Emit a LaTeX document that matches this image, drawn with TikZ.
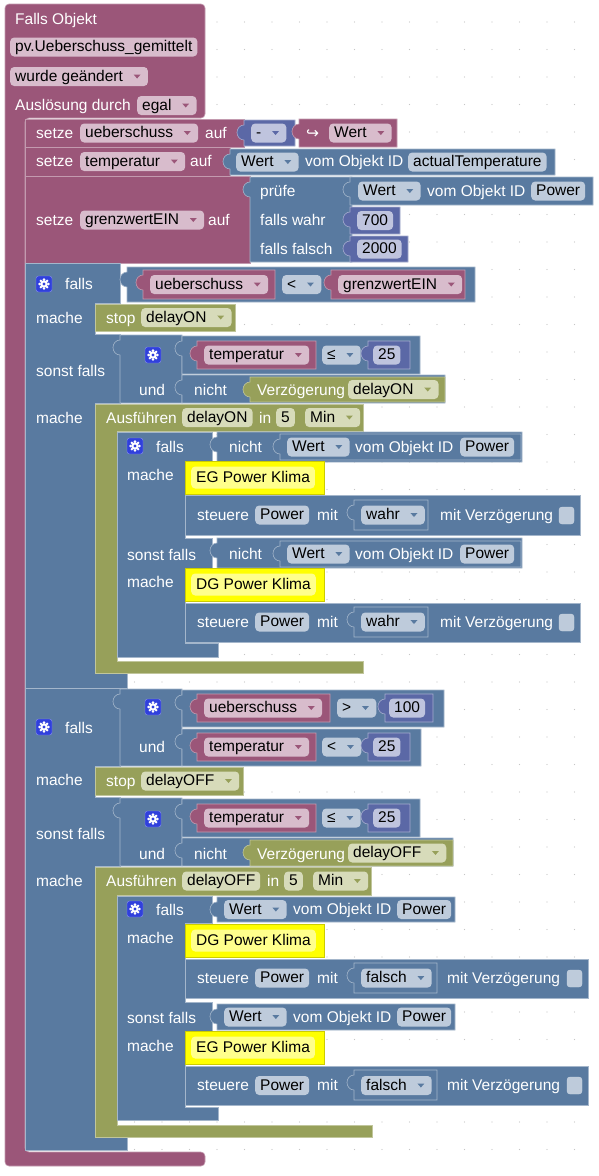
\documentclass[tikz,border=0pt]{standalone}
\usepackage{fontspec}
\setmainfont{Liberation Sans}
\newfontfamily\symfont{DejaVu Sans}
\usetikzlibrary{positioning}

\definecolor{procP}{RGB}{155,86,121}
\definecolor{procPf}{RGB}{216,188,204}
\definecolor{logB}{RGB}{89,122,160}
\definecolor{logBf}{RGB}{190,203,219}
\definecolor{mathB}{RGB}{91,104,166}
\definecolor{mathBf}{RGB}{191,196,222}
\definecolor{timO}{RGB}{151,160,90}
\definecolor{timOf}{RGB}{215,219,186}
\definecolor{dbgY}{RGB}{255,255,0}
\definecolor{dbgYf}{RGB}{255,255,140}
\definecolor{gearB}{RGB}{48,64,220}

\newcommand{\fsz}{\fontsize{15.5}{18}\selectfont}
\newcommand{\ddsp}{\kern20pt}
% dropdown triangle at the right end of a field node
\newcommand{\ddarr}[2]{\fill[#1] ([xshift=-14.5pt,yshift=2pt]#2.east) -- ++(7pt,0pt) -- ++(-3.5pt,-4pt) -- cycle;}
% value block with its output tab: style, x1, y1, x2, y2
\newcommand{\vblock}[5]{\filldraw[#1] (#2,#3+5) to[out=180,in=90] (#2-7,#3+12.5) to[out=270,in=180] (#2,#3+20) -- (#2,#5) -- (#4,#5) -- (#4,#3) -- (#2,#3) -- cycle;}
\newcommand{\gearicon}[2]{%
  \filldraw[fill=gearB, draw=gearB!55!white, rounded corners=2.5pt] (#1-8,#2-8) rectangle (#1+8,#2+8);
  \foreach \a in {0,45,...,315} \fill[white] (#1,#2) ++(\a:4.4pt) circle (1.4pt);
  \fill[white] (#1,#2) circle (3.8pt);
  \fill[gearB] (#1,#2) circle (1.6pt);}
\newcommand{\chkbox}[2]{\filldraw[fill=logBf, draw=logBf!80!white, rounded corners=3pt] (#1,#2) rectangle (#1+15,#2+17);}

\begin{document}
\begin{tikzpicture}[x=1pt,y=-1pt]
    % Define styles
    \tikzstyle{pblk} = [fill=procP, draw=procP!60!white, line width=0.6pt]
    \tikzstyle{bblk} = [fill=logB, draw=logB!55!white, line width=0.6pt]
    \tikzstyle{mblk} = [fill=mathB, draw=mathB!55!white, line width=0.6pt]
    \tikzstyle{oblk} = [fill=timO, draw=timO!60!white, line width=0.6pt]
    \tikzstyle{yblk} = [fill=dbgY, draw=dbgY!80!black, line width=0.4pt]
    \tikzstyle{lbl} = [text=white, inner sep=0pt, anchor=base west, font=\fsz]
    \tikzstyle{fld} = [rounded corners=4pt, inner xsep=5pt, inner ysep=0pt, minimum height=19pt, text height=11.5pt, text depth=2.5pt, anchor=west, font=\fsz, text=black]
    \tikzstyle{pfield} = [fld, fill=procPf]
    \tikzstyle{bfield} = [fld, fill=logBf]
    \tikzstyle{mfield} = [fld, fill=mathBf]
    \tikzstyle{ofield} = [fld, fill=timOf]
    \tikzstyle{yfield} = [fld, fill=dbgYf, minimum height=22pt]

    \useasboundingbox (0,0) rectangle (598,1176);
    \fill[white] (0,0) rectangle (598,1176);
    \foreach \i in {0,...,21} \foreach \j in {0,...,42} \fill[gray!45] (24.5+27.5*\i,22+27.5*\j) circle (0.6pt);

    % Trigger block
    \filldraw[pblk, rounded corners=4pt] (5,4) -- (205,4) -- (205,118) -- (25,118) -- (25,1152) -- (205,1152) -- (205,1166) -- (5,1166) -- cycle;
    \node[lbl] (trgT) at (15,24) {Falls Objekt};
    \node[pfield] (trgId) at (10,47) {pv.Ueberschuss\_gemittelt};
    \node[pfield] (trgChg) at (10,76.5) {wurde geändert\ddsp}; \ddarr{procP}{trgChg}
    \node[lbl] (trgBy) at (15,110) {Auslösung durch};
    \node[pfield] (trgAny) at (137,105.5) {egal\ddsp}; \ddarr{procP}{trgAny}

    % setze ueberschuss
    \filldraw[pblk] (25,119) rectangle (244,147);
    \node[lbl] (setA) at (36,138.5) {setze};
    \node[pfield] (setAv) at (80,133) {ueberschuss\ddsp}; \ddarr{procP}{setAv}
    \node[lbl] (setAto) at (205,138.5) {auf};
    \vblock{mblk}{244}{120}{295}{146}
    \node[mfield] (negOp) at (251,133) {-\ddsp}; \ddarr{mathB}{negOp}
    \vblock{pblk}{299}{119}{397}{147}
    \node[lbl] (negArr) at (306,138.5) {\symfont ↪};
    \node[pfield] (negVal) at (329,133) {Wert\ddsp}; \ddarr{procP}{negVal}

    % setze temperatur
    \filldraw[pblk] (25,147) rectangle (230,176);
    \node[lbl] (setB) at (36,166.5) {setze};
    \node[pfield] (setBv) at (80,161.5) {temperatur\ddsp}; \ddarr{procP}{setBv}
    \node[lbl] (setBto) at (190,166.5) {auf};
    \vblock{bblk}{230}{149}{555}{175}
    \node[bfield] (tmpAttr) at (236,162) {Wert\ddsp}; \ddarr{logB}{tmpAttr}
    \node[lbl] (tmpOf) at (305,166.5) {vom Objekt ID};
    \node[bfield] (tmpId) at (408,162) {actualTemperature};

    % setze grenzwertEIN
    \filldraw[pblk] (25,176) rectangle (250,263);
    \node[lbl] (setC) at (36,225) {setze};
    \node[pfield] (setCv) at (80,220) {grenzwertEIN\ddsp}; \ddarr{procP}{setCv}
    \node[lbl] (setCto) at (208,225) {auf};
    \vblock{bblk}{250}{177}{352}{262}
    \node[lbl] (terIf) at (260,196) {prüfe};
    \node[lbl] (terT) at (260,225) {falls wahr};
    \node[lbl] (terF) at (260,254) {falls falsch};
    \vblock{bblk}{350}{177}{593}{205}
    \node[bfield] (pwrAttr) at (358,191) {Wert\ddsp}; \ddarr{logB}{pwrAttr}
    \node[lbl] (pwrOf) at (427,196) {vom Objekt ID};
    \node[bfield] (pwrId) at (531,191) {Power};
    \vblock{mblk}{350}{207}{400}{234}
    \node[mfield] (num700) at (357,220.5) {700};
    \vblock{mblk}{350}{236}{408}{262}
    \node[mfield] (num2000) at (357,249) {2000};

    % falls ueberschuss < grenzwertEIN
    \filldraw[bblk] (25,263) -- (120,263) -- (120,303) -- (95,303) -- (95,334) -- (120,334) -- (120,403) -- (95,403) -- (95,673) -- (127,673) -- (127,688) -- (25,688) -- cycle;
    \gearicon{44}{284}
    \node[lbl] (ifA) at (65,289) {falls};
    \vblock{bblk}{127}{267}{475}{302}
    \vblock{pblk}{143}{270}{275}{299}
    \node[pfield] (cmpAl) at (150,284.5) {ueberschuss\ddsp}; \ddarr{procP}{cmpAl}
    \node[bfield] (cmpAop) at (282,284.5) {<\ddsp}; \ddarr{logB}{cmpAop}
    \vblock{pblk}{331}{270}{465}{299}
    \node[pfield] (cmpAr) at (338,284.5) {grenzwertEIN\ddsp}; \ddarr{procP}{cmpAr}
    \node[lbl] (ifAdo) at (36,323) {mache};
    \filldraw[oblk] (95,304) rectangle (235,331);
    \node[lbl] (stopA) at (106,323) {stop};
    \node[ofield] (stopAv) at (141,317.5) {delayON\ddsp}; \ddarr{timO}{stopAv}

    \node[lbl] (ifAel) at (36,376) {sonst falls};
    \vblock{bblk}{120}{335}{182}{403}
    \gearicon{153}{355}
    \vblock{bblk}{182}{336}{420}{374}
    \vblock{pblk}{197}{341}{316}{369}
    \node[pfield] (cmpBl) at (204,355) {temperatur\ddsp}; \ddarr{procP}{cmpBl}
    \node[bfield] (cmpBop) at (322,355) {≤\ddsp}; \ddarr{logB}{cmpBop}
    \vblock{mblk}{368}{341}{410}{369}
    \node[mfield] (cmpBr) at (373,355) {25};
    \node[lbl] (andA) at (139,395) {und};
    \vblock{bblk}{182}{375}{445}{403}
    \node[lbl] (notA) at (194,395) {nicht};
    \vblock{oblk}{250}{377}{445}{402}
    \node[lbl] (delA) at (257,395) {Verzögerung};
    \node[ofield] (delAv) at (348,389.5) {delayON\ddsp}; \ddarr{timO}{delAv}

    \node[lbl] (ifAdo2) at (36,423) {mache};
    \filldraw[oblk] (95,404) -- (363,404) -- (363,431) -- (117,431) -- (117,661) -- (363,661) -- (363,673) -- (95,673) -- cycle;
    \node[lbl] (runA) at (106,423) {Ausführen};
    \node[ofield] (runAv) at (182,417.5) {delayON};
    \node[lbl] (runAin) at (259,423) {in};
    \node[ofield] (runAt) at (276,417.5) {5};
    \node[ofield] (runAu) at (305,417.5) {Min\ddsp}; \ddarr{timO}{runAu}

    % inner falls (delayON)
    \filldraw[bblk] (117,432) -- (212,432) -- (212,461) -- (185,461) -- (185,538) -- (212,538) -- (212,568) -- (185,568) -- (185,643) -- (218,643) -- (218,657) -- (117,657) -- cycle;
    \gearicon{135}{446}
    \node[lbl] (ifC) at (156,452) {falls};
    \vblock{bblk}{217}{432}{522}{462}
    \node[lbl] (notC1) at (229,452) {nicht};
    \vblock{bblk}{280}{434}{521}{460}
    \node[bfield] (getC1) at (287,447) {Wert\ddsp}; \ddarr{logB}{getC1}
    \node[lbl] (getC1of) at (355,452) {vom Objekt ID};
    \node[bfield] (getC1id) at (460,447) {Power};
    \node[lbl] (ifCdo) at (127,480) {mache};
    \filldraw[yblk] (185,461) rectangle (324,494);
    \node[yfield] (dbgC1) at (191,477.5) {EG Power Klima};
    \filldraw[bblk] (185,495) rectangle (580,535);
    \node[lbl] (ctlC1) at (197,520) {steuere};
    \node[bfield] (ctlC1id) at (255,515) {Power};
    \node[lbl] (ctlC1w) at (317,520) {mit};
    \vblock{bblk}{354}{500}{428}{530}
    \node[bfield] (ctlC1v) at (361,515) {wahr\ddsp}; \ddarr{logB}{ctlC1v}
    \node[lbl] (ctlC1d) at (440,520) {mit Verzögerung};
    \chkbox{559}{507}

    \node[lbl] (ifCel) at (127,560) {sonst falls};
    \vblock{bblk}{217}{538}{522}{568}
    \node[lbl] (notC2) at (229,559) {nicht};
    \vblock{bblk}{280}{541}{521}{567}
    \node[bfield] (getC2) at (287,554) {Wert\ddsp}; \ddarr{logB}{getC2}
    \node[lbl] (getC2of) at (355,559) {vom Objekt ID};
    \node[bfield] (getC2id) at (460,554) {Power};
    \node[lbl] (ifCdo2) at (127,587) {mache};
    \filldraw[yblk] (185,568) rectangle (324,601);
    \node[yfield] (dbgC2) at (191,584.5) {DG Power Klima};
    \filldraw[bblk] (185,603) rectangle (580,642);
    \node[lbl] (ctlC2) at (197,627) {steuere};
    \node[bfield] (ctlC2id) at (255,622) {Power};
    \node[lbl] (ctlC2w) at (317,627) {mit};
    \vblock{bblk}{354}{607}{428}{637}
    \node[bfield] (ctlC2v) at (361,622) {wahr\ddsp}; \ddarr{logB}{ctlC2v}
    \node[lbl] (ctlC2d) at (440,627) {mit Verzögerung};
    \chkbox{559}{614}

    % falls ueberschuss > 100 und temperatur < 25
    \filldraw[bblk] (25,688) -- (120,688) -- (120,766) -- (95,766) -- (95,797) -- (120,797) -- (120,866) -- (95,866) -- (95,1137) -- (127,1137) -- (127,1150) -- (25,1150) -- cycle;
    \gearicon{44}{727}
    \node[lbl] (ifB) at (65,733) {falls};
    \vblock{bblk}{120}{689}{182}{766}
    \gearicon{153}{707}
    \vblock{bblk}{182}{690}{444}{727}
    \vblock{pblk}{197}{694}{330}{722}
    \node[pfield] (cmpCl) at (204,708) {ueberschuss\ddsp}; \ddarr{procP}{cmpCl}
    \node[bfield] (cmpCop) at (337,708) {>\ddsp}; \ddarr{logB}{cmpCop}
    \vblock{mblk}{385}{694}{433}{722}
    \node[mfield] (cmpCr) at (389,708) {100};
    \node[lbl] (andB) at (139,752) {und};
    \vblock{bblk}{182}{729}{421}{766}
    \vblock{pblk}{197}{733}{316}{761}
    \node[pfield] (cmpDl) at (204,747) {temperatur\ddsp}; \ddarr{procP}{cmpDl}
    \node[bfield] (cmpDop) at (322,747) {<\ddsp}; \ddarr{logB}{cmpDop}
    \vblock{mblk}{368}{733}{410}{761}
    \node[mfield] (cmpDr) at (373,747) {25};
    \node[lbl] (ifBdo) at (36,785) {mache};
    \filldraw[oblk] (95,767) rectangle (243,795);
    \node[lbl] (stopB) at (106,786) {stop};
    \node[ofield] (stopBv) at (141,781) {delayOFF\ddsp}; \ddarr{timO}{stopBv}

    \node[lbl] (ifBel) at (36,839) {sonst falls};
    \vblock{bblk}{120}{798}{182}{866}
    \gearicon{153}{819}
    \vblock{bblk}{182}{799}{420}{837}
    \vblock{pblk}{197}{804}{316}{832}
    \node[pfield] (cmpEl) at (204,818) {temperatur\ddsp}; \ddarr{procP}{cmpEl}
    \node[bfield] (cmpEop) at (322,818) {≤\ddsp}; \ddarr{logB}{cmpEop}
    \vblock{mblk}{368}{804}{410}{832}
    \node[mfield] (cmpEr) at (373,818) {25};
    \node[lbl] (andC) at (139,859) {und};
    \vblock{bblk}{182}{838}{453}{866}
    \node[lbl] (notB) at (194,859) {nicht};
    \vblock{oblk}{250}{840}{453}{866}
    \node[lbl] (delB) at (257,859) {Verzögerung};
    \node[ofield] (delBv) at (348,853) {delayOFF\ddsp}; \ddarr{timO}{delBv}

    \node[lbl] (ifBdo2) at (36,886) {mache};
    \filldraw[oblk] (95,867) -- (371,867) -- (371,895) -- (117,895) -- (117,1125) -- (372,1125) -- (372,1137) -- (95,1137) -- cycle;
    \node[lbl] (runB) at (106,886) {Ausführen};
    \node[ofield] (runBv) at (182,881) {delayOFF};
    \node[lbl] (runBin) at (267,886) {in};
    \node[ofield] (runBt) at (284,881) {5};
    \node[ofield] (runBu) at (313,881) {Min\ddsp}; \ddarr{timO}{runBu}

    % inner falls (delayOFF)
    \filldraw[bblk] (117,896) -- (212,896) -- (212,923) -- (185,923) -- (185,1002) -- (212,1002) -- (212,1031) -- (185,1031) -- (185,1107) -- (218,1107) -- (218,1120) -- (117,1120) -- cycle;
    \gearicon{135}{909}
    \node[lbl] (ifD) at (156,915) {falls};
    \vblock{bblk}{217}{897}{455}{922}
    \node[bfield] (getD1) at (224,909.5) {Wert\ddsp}; \ddarr{logB}{getD1}
    \node[lbl] (getD1of) at (293,914.5) {vom Objekt ID};
    \node[bfield] (getD1id) at (397,909.5) {Power};
    \node[lbl] (ifDdo) at (127,943) {mache};
    \filldraw[yblk] (185,924) rectangle (324,957);
    \node[yfield] (dbgD1) at (191,940.5) {DG Power Klima};
    \filldraw[bblk] (185,959) rectangle (588,998);
    \node[lbl] (ctlD1) at (197,983) {steuere};
    \node[bfield] (ctlD1id) at (255,978) {Power};
    \node[lbl] (ctlD1w) at (317,983) {mit};
    \vblock{bblk}{354}{963}{437}{993}
    \node[bfield] (ctlD1v) at (361,978) {falsch\ddsp}; \ddarr{logB}{ctlD1v}
    \node[lbl] (ctlD1d) at (447,983) {mit Verzögerung};
    \chkbox{567}{970}

    \node[lbl] (ifDel) at (127,1023) {sonst falls};
    \vblock{bblk}{217}{1004}{455}{1030}
    \node[bfield] (getD2) at (224,1017) {Wert\ddsp}; \ddarr{logB}{getD2}
    \node[lbl] (getD2of) at (293,1022) {vom Objekt ID};
    \node[bfield] (getD2id) at (397,1017) {Power};
    \node[lbl] (ifDdo2) at (127,1051) {mache};
    \filldraw[yblk] (185,1031) rectangle (324,1064);
    \node[yfield] (dbgD2) at (191,1047.5) {EG Power Klima};
    \filldraw[bblk] (185,1066) rectangle (588,1105);
    \node[lbl] (ctlD2) at (197,1090.5) {steuere};
    \node[bfield] (ctlD2id) at (255,1085.5) {Power};
    \node[lbl] (ctlD2w) at (317,1090.5) {mit};
    \vblock{bblk}{354}{1070}{437}{1100}
    \node[bfield] (ctlD2v) at (361,1085.5) {falsch\ddsp}; \ddarr{logB}{ctlD2v}
    \node[lbl] (ctlD2d) at (447,1090.5) {mit Verzögerung};
    \chkbox{567}{1077}
\end{tikzpicture}
\end{document}
